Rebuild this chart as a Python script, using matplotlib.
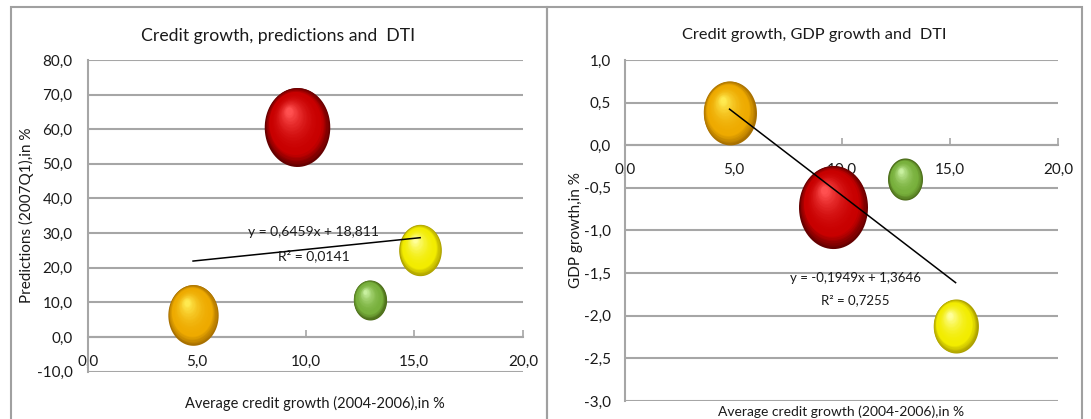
# Credit growth vs predictions / GDP growth, bubble size = DTI
import numpy as np
import matplotlib
matplotlib.use("Agg")
import matplotlib.pyplot as plt
from matplotlib.path import Path
from matplotlib.patches import Rectangle
from matplotlib.colors import to_rgb
from matplotlib.ticker import FuncFormatter, MultipleLocator
from matplotlib.transforms import ScaledTranslation

# data
credit_growth = [4.83, 9.62, 12.95, 15.27]
predictions = [6.4, 60.7, 10.7, 25.1]
gdp_growth = [0.38, -0.72, -0.40, -2.12]
dti = [46, 78, 20, 33]

trend_left = (0.6459, 18.811, "y = 0,6459x + 18,811", "R² = 0,0141")
trend_right = (-0.1949, 1.3646, "y = -0,1949x + 1,3646", "R² = 0,7255")

# dark rim, body, highlight
bubble_colors = [
    ("#A87000", "#EEAA00", "#FFEA50"),
    ("#640000", "#C80000", "#FF5050"),
    ("#4A6A18", "#78B03C", "#C8F0A0"),
    ("#ACA000", "#F2EC00", "#FFFF9A"),
]

plt.rcParams["font.family"] = ["Liberation Sans Narrow", "Lato", "DejaVu Sans"]

W, H, DPI = 1091, 419, 100
fig = plt.figure(figsize=(W / DPI, H / DPI), dpi=DPI)
fig.patch.set_facecolor("white")

GRID = "#A6A6A6"
TXT = "#1A1A1A"


def px(x, y):
    return x / W, 1 - y / H


# chart frames
for x0, x1 in [(11, 547), (547, 1082)]:
    fig.patches.append(Rectangle(px(x0, 440), (x1 - x0) / W, (440 - 7) / H,
                                 transform=fig.transFigure, fill=False,
                                 edgecolor="#A0A0A0", lw=1.5))

t = np.linspace(0, 2 * np.pi, 80)
ellipse = Path(np.column_stack([0.83 * np.cos(t), np.sin(t)]), closed=True)


def bubble(ax, x, y, h_px, cols):
    dark, base, light = [np.array(to_rgb(c)) for c in cols]
    n = 32
    w_px = h_px * 0.83
    for i in range(n):
        k = i / (n - 1)
        if k < 0.22:
            c = dark + (base - dark) * (k / 0.22)
        else:
            c = base + (light - base) * ((k - 0.22) / 0.78) ** 2.0
        sc = 1 - 0.9 * k
        dx = -0.13 * w_px * k
        dy = 0.2 * h_px * k
        tr = ax.transData + ScaledTranslation(dx / DPI, dy / DPI, fig.dpi_scale_trans)
        ax.scatter([x], [y], s=(h_px * sc * 72 / DPI) ** 2, marker=ellipse,
                   color=c, linewidths=0, transform=tr, zorder=3, clip_on=False)


def setup(ax, ylim, ystep, ylabel_pad):
    ax.set_xlim(0, 20)
    ax.set_ylim(*ylim)
    ax.xaxis.set_major_locator(MultipleLocator(5))
    ax.yaxis.set_major_locator(MultipleLocator(ystep))
    fmt = FuncFormatter(lambda v, p: f"{v:.1f}".replace(".", ","))
    ax.xaxis.set_major_formatter(fmt)
    ax.yaxis.set_major_formatter(fmt)
    for s in ["top", "right"]:
        ax.spines[s].set_visible(False)
    ax.spines["bottom"].set_position(("data", 0))
    for s in ["left", "bottom"]:
        ax.spines[s].set_color(GRID)
        ax.spines[s].set_linewidth(1.5)
    ax.yaxis.grid(True, color=GRID, lw=1.5)
    ax.set_axisbelow(True)
    ax.tick_params(axis="x", direction="in", length=5, width=1.2, color=GRID,
                   pad=13, labelsize=11, labelcolor=TXT)
    ax.tick_params(axis="y", length=0, pad=ylabel_pad, labelsize=11, labelcolor=TXT)


def draw(ax, yvals, trend, k):
    h_unit = k * ax.get_position().height * H
    for x, y, d, c in zip(credit_growth, yvals, dti, bubble_colors):
        bubble(ax, x, y, h_unit * np.sqrt(d), c)
    xs = np.array([min(credit_growth), max(credit_growth)])
    ax.plot(xs, trend[0] * xs + trend[1], color="black", lw=1.1, zorder=5)


# left chart
ax1 = fig.add_axes([88 / W, 1 - 371.6 / H, 435 / W, 311.6 / H])
setup(ax1, (-10, 80), 10, 11)
draw(ax1, predictions, trend_left, 0.0287)
fig.text(*px(278, 36), "Credit growth, predictions and  DTI", ha="center", va="center",
         fontsize=12.7, color=TXT)
fig.text(*px(26, 215), "Predictions (2007Q1),in %", rotation=90, ha="center", va="center",
         fontsize=11, color=TXT)
fig.text(*px(315, 403), "Average credit growth (2004-2006),in %", ha="center", va="center",
         fontsize=10.5, color=TXT)
fig.text(*px(314, 232), trend_left[2], ha="center", va="center", fontsize=10, color=TXT, zorder=6)
fig.text(*px(314, 256), trend_left[3], ha="center", va="center", fontsize=10, color=TXT, zorder=6)

# right chart
ax2 = fig.add_axes([625 / W, 1 - 401 / H, 433 / W, 341 / H])
setup(ax2, (-3, 1), 0.5, 10)
draw(ax2, gdp_growth, trend_right, 0.0276)
fig.text(*px(814, 35), "Credit growth, GDP growth and  DTI", ha="center", va="center",
         fontsize=11.8, color=TXT)
fig.text(*px(576, 230), "GDP growth,in %", rotation=90, ha="center", va="center",
         fontsize=11, color=TXT)
fig.text(*px(841, 412), "Average credit growth (2004-2006),in %", ha="center", va="center",
         fontsize=10, color=TXT)
fig.text(*px(855, 278), trend_right[2], ha="center", va="center", fontsize=9.5, color=TXT, zorder=6)
fig.text(*px(855, 300), trend_right[3], ha="center", va="center", fontsize=9.5, color=TXT, zorder=6)

fig.savefig("out.png", dpi=DPI, facecolor="white")
